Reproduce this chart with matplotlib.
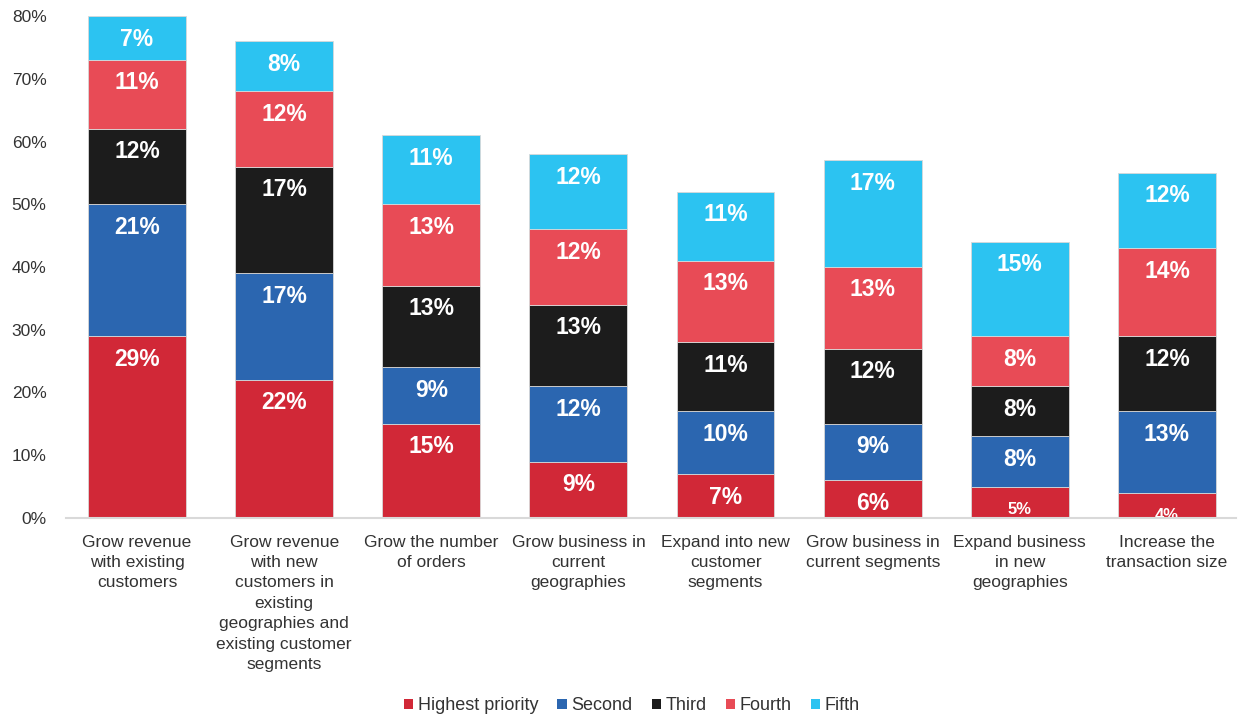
import matplotlib
matplotlib.use("Agg")
import matplotlib.pyplot as plt
from matplotlib import font_manager
import numpy as np

plt.rcParams['font.family'] = ['Liberation Sans', 'DejaVu Sans']

# Regular-width bold face for the in-bar value labels
_bold_files = [f for f in font_manager.findSystemFonts()
               if f.endswith("LiberationSans-Bold.ttf")]
label_font = (font_manager.FontProperties(fname=_bold_files[0])
              if _bold_files else
              font_manager.FontProperties(family="DejaVu Sans", weight="bold"))

categories = [
    "Grow revenue\nwith existing\ncustomers",
    "Grow revenue\nwith new\ncustomers in\nexisting\ngeographies and\nexisting customer\nsegments",
    "Grow the number\nof orders",
    "Grow business in\ncurrent\ngeographies",
    "Expand into new\ncustomer\nsegments",
    "Grow business in\ncurrent segments",
    "Expand business\nin new\ngeographies",
    "Increase the\ntransaction size",
]

series_names = ["Highest priority", "Second", "Third", "Fourth", "Fifth"]
highest = [29, 22, 15, 9, 7, 6, 5, 4]
second = [21, 17, 9, 12, 10, 9, 8, 13]
third = [12, 17, 13, 13, 11, 12, 8, 12]
fourth = [11, 12, 13, 12, 13, 13, 8, 14]
fifth = [7, 8, 11, 12, 11, 17, 15, 12]
series_values = [highest, second, third, fourth, fifth]

colors = ["#D12837", "#2B66B0", "#1C1C1C", "#E84B56", "#2CC3F1"]

y_ticks = [0, 10, 20, 30, 40, 50, 60, 70, 80]

fig = plt.figure(figsize=(12.43, 7.22), dpi=100)
ax = fig.add_axes([66 / 1243, 204 / 722, 1170 / 1243, 502 / 722])

x = np.arange(len(categories))
bottom = np.zeros(len(categories))
handles = []
for name, vals, col in zip(series_names, series_values, colors):
    vals = np.array(vals, dtype=float)
    bars = ax.bar(x, vals, bottom=bottom, width=0.665, color=col,
                  edgecolor="#D8D8D8", linewidth=0.6, label=name, zorder=2)
    handles.append(bars)
    for xi, v, b in zip(x, vals, bottom):
        top = b + v
        fp = label_font.copy()
        fp.set_size(12 if v <= 5 else 16.5)
        ax.annotate(f"{int(v)}%", xy=(xi, top), xytext=(0, -23),
                    textcoords="offset pixels", ha="center", va="center",
                    color="white", fontproperties=fp,
                    clip_on=True, annotation_clip=False, zorder=3)
    bottom += vals

ax.set_xlim(-0.4825, 7.469)
ax.set_ylim(0, 80)
ax.set_yticks(y_ticks)
ax.set_yticklabels([f"{t}%" for t in y_ticks], fontsize=12.5, color="#333333")
ax.set_xticks(x)
ax.set_xticklabels(categories, fontsize=12.5, color="#333333", linespacing=1.45,
                   va="top")
ax.tick_params(axis="both", length=0)
ax.tick_params(axis="x", pad=12)
ax.tick_params(axis="y", pad=14)
for s in ["top", "right", "left"]:
    ax.spines[s].set_visible(False)
ax.spines["bottom"].set_color("#D9D9D9")
ax.spines["bottom"].set_linewidth(1.5)
ax.spines["bottom"].set_zorder(4)

leg = fig.legend(handles=handles, labels=series_names, loc="center",
                 bbox_to_anchor=(632 / 1243, 1 - 706 / 722), ncol=5,
                 frameon=False, fontsize=13, handlelength=0.5,
                 handleheight=0.5, handletextpad=0.28, columnspacing=1.05)
for t in leg.get_texts():
    t.set_color("#333333")
for h in leg.legend_handles:
    h.set_edgecolor("none")

fig.savefig("out.png", dpi=100)
